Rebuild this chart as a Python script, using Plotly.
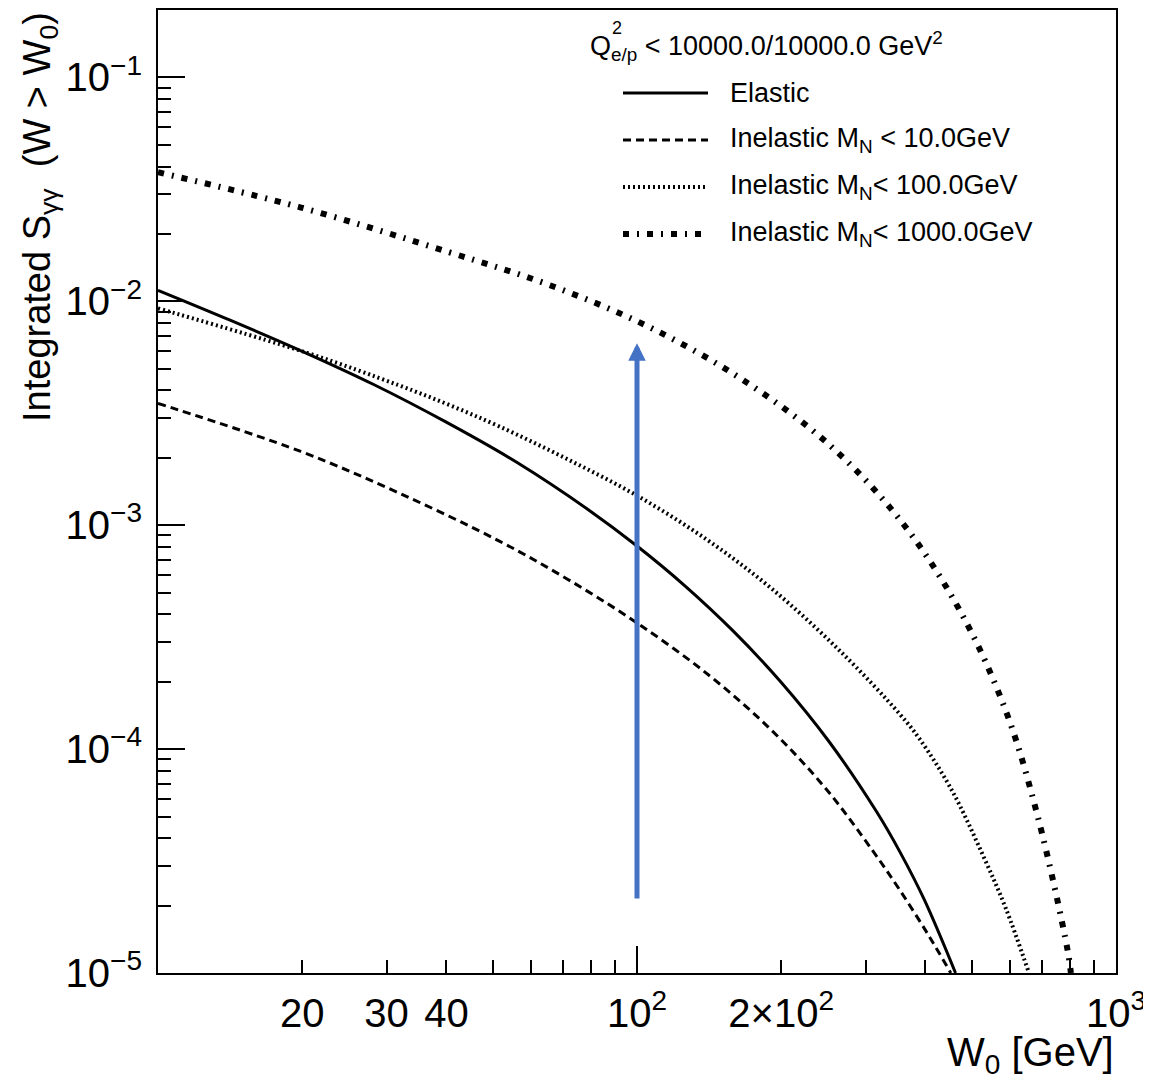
import numpy as np
import plotly.graph_objects as go

# ---- data ----
w_elastic = [10, 14.1, 20.0, 28.2, 39.8, 56.2, 79.4, 100, 125.9, 158.5, 199.5, 251.2, 316.2,
             354.8, 398.1, 462.4]
s_elastic = [1.12e-2, 8.26e-3, 5.98e-3, 4.25e-3, 2.90e-3, 1.905e-3, 1.167e-3, 8.07e-4, 5.36e-4,
             3.38e-4, 2.00e-4, 1.087e-4, 5.26e-5, 3.44e-5, 2.12e-5, 1.0e-5]

w_mn10 = [10, 19.8, 31.9, 51.6, 71.3, 100, 142, 192, 249, 311, 354, 408, 452]
s_mn10 = [3.5e-3, 2.14e-3, 1.39e-3, 8.49e-4, 5.77e-4, 3.66e-4, 2.12e-4, 1.20e-4, 6.58e-5,
          3.5e-5, 2.34e-5, 1.45e-5, 1.0e-5]

w_mn100 = [10, 20.4, 31.9, 40.6, 51.6, 71.3, 100, 140, 192, 265, 354, 389, 453, 527, 589, 655]
s_mn100 = [9.3e-3, 5.9e-3, 4.21e-3, 3.44e-3, 2.76e-3, 1.98e-3, 1.355e-3, 8.61e-4, 5.16e-4,
           2.75e-4, 1.43e-4, 1.11e-4, 6.62e-5, 3.37e-5, 1.94e-5, 1.03e-5]

w_mn1000 = [10, 19.8, 40.6, 65.8, 106, 167, 253, 360, 478, 591, 687, 791, 805]
s_mn1000 = [3.77e-2, 2.63e-2, 1.655e-2, 1.18e-2, 7.68e-3, 4.43e-3, 2.27e-3, 1.01e-3,
            3.96e-4, 1.45e-4, 4.97e-5, 1.29e-5, 1.0e-5]

legend_labels = ["Elastic",
                 "Inelastic M<sub>N</sub> &lt; 10.0GeV",
                 "Inelastic M<sub>N</sub>&lt; 100.0GeV",
                 "Inelastic M<sub>N</sub>&lt; 1000.0GeV"]
header_text = "Q<sub>e/p</sub> &lt; 10000.0/10000.0 GeV<sup>2</sup>"

x_tickvals = [20, 30, 40, 100, 200, 1000]
x_ticktext = ["20", "30", "40", "10<sup>2</sup>", "2×10<sup>2</sup>", "10<sup>3</sup>"]
x_minor = [50, 60, 70, 80, 90, 300, 400, 500, 600, 700, 800, 900]
x_major_long = [100, 1000]

y_tickvals = [1e-5, 1e-4, 1e-3, 1e-2, 1e-1]
y_ticktext = ["10<sup>−5</sup>", "10<sup>−4</sup>", "10<sup>−3</sup>", "10<sup>−2</sup>", "10<sup>−1</sup>"]
y_minor = [m * 10.0 ** e for e in range(-5, 0) for m in range(2, 10)]

arrow_x = 100
arrow_y_start = 2.12e-5
arrow_y_end = 6.5e-3

x_range = [1.0, 3.0]
y_range = [-5.0, np.log10(0.2)]

FONT = "Liberation Sans, Arial, Helvetica, sans-serif"

styles = [
    dict(width=3, dash="solid"),
    dict(width=3, dash="8px,5px"),
    dict(width=4, dash="2px,3px"),
    dict(width=6, dash="6px,8px,2px,8px"),
]
series = [(w_elastic, s_elastic), (w_mn10, s_mn10), (w_mn100, s_mn100), (w_mn1000, s_mn1000)]

fig = go.Figure()
for (wx, sy), st, name in zip(series, styles, legend_labels):
    fig.add_trace(go.Scatter(
        x=wx, y=sy, mode="lines", name=name, showlegend=False,
        line=dict(color="black", width=st["width"], dash=st["dash"], shape="spline", smoothing=1.0),
        hoverinfo="skip"))

# invisible helper trace to carry the overlay axis with long major ticks
fig.add_trace(go.Scatter(x=[100], y=[1e-3], xaxis="x2", mode="markers",
                         marker=dict(opacity=0), showlegend=False, hoverinfo="skip"))

# the page body adds an 8px offset; figure is sized/margined to compensate
fig.update_layout(
    width=1143, height=1080,
    margin=dict(l=150, r=35, t=2, b=115, autoexpand=False),
    paper_bgcolor="white", plot_bgcolor="white",
    font=dict(family=FONT, color="black"),
    xaxis=dict(type="log", range=x_range, showgrid=False, zeroline=False, automargin=False,
               showline=True, linecolor="black", linewidth=2, mirror=True,
               tickmode="array", tickvals=x_tickvals, ticktext=x_ticktext,
               ticks="inside", ticklen=13, tickwidth=1.5, tickcolor="black",
               tickfont=dict(size=40, family=FONT), ticklabelstandoff=4,
               minor=dict(tickvals=x_minor, ticks="inside", ticklen=13, tickwidth=1.5,
                          tickcolor="black", showgrid=False)),
    xaxis2=dict(type="log", range=x_range, overlaying="x", anchor="y", side="bottom",
                showgrid=False, zeroline=False, showline=False, automargin=False,
                tickmode="array", tickvals=x_major_long, ticks="inside", ticklen=27,
                tickwidth=1.5, tickcolor="black", showticklabels=False),
    yaxis=dict(type="log", range=y_range, showgrid=False, zeroline=False, automargin=False,
               showline=True, linecolor="black", linewidth=2, mirror=True,
               tickmode="array", tickvals=y_tickvals, ticktext=y_ticktext,
               ticks="inside", ticklen=27, tickwidth=1.5, tickcolor="black",
               tickfont=dict(size=40, family=FONT), ticklabelstandoff=6,
               minor=dict(tickvals=y_minor, ticks="inside", ticklen=13, tickwidth=1.5,
                          tickcolor="black", showgrid=False)),
)

# legend drawn by hand (line samples + labels); positions in page pixels
pw = 958.0
ph = 963.0
def px2x(px):
    return (px - 158.0) / pw
def py2y(py):
    return (973.0 - py) / ph

row_py = [93, 140, 187, 234]
for st, lab, py in zip(styles, legend_labels, row_py):
    fig.add_shape(type="line", xref="paper", yref="paper",
                  x0=px2x(623), x1=px2x(708), y0=py2y(py), y1=py2y(py),
                  line=dict(color="black", width=st["width"], dash=st["dash"]))
    fig.add_annotation(xref="paper", yref="paper", x=px2x(728), y=py2y(py),
                       xanchor="left", yanchor="middle", showarrow=False,
                       text=lab, font=dict(size=27, family=FONT, color="black"))

fig.add_annotation(xref="paper", yref="paper", x=px2x(588), y=py2y(46),
                   xanchor="left", yanchor="middle", showarrow=False,
                   text=header_text, font=dict(size=27, family=FONT, color="black"))
fig.add_annotation(xref="paper", yref="paper", x=px2x(610), y=py2y(28),
                   xanchor="left", yanchor="middle", showarrow=False,
                   text="2", font=dict(size=18, family=FONT, color="black"))

# axis titles
fig.add_annotation(xref="paper", yref="paper", x=1.0, y=py2y(1055),
                   xanchor="right", yanchor="middle", showarrow=False,
                   text="W<sub>0</sub> [GeV]", font=dict(size=40, family=FONT, color="black"))
fig.add_annotation(xref="paper", yref="paper", x=px2x(40), y=py2y(10),
                   xanchor="center", yanchor="top", showarrow=False, textangle=-90,
                   text="Integrated S<sub>γγ</sub>  (W &gt; W<sub>0</sub>)",
                   font=dict(size=38, family=FONT, color="black"))

# blue arrow
fig.add_annotation(xref="x", yref="y", axref="x", ayref="y",
                   x=np.log10(arrow_x), y=np.log10(arrow_y_end),
                   ax=np.log10(arrow_x), ay=np.log10(arrow_y_start),
                   text="", showarrow=True, arrowhead=2, arrowsize=0.7,
                   arrowwidth=5, arrowcolor="#4472C4", standoff=0)

fig.write_html("out.html")
